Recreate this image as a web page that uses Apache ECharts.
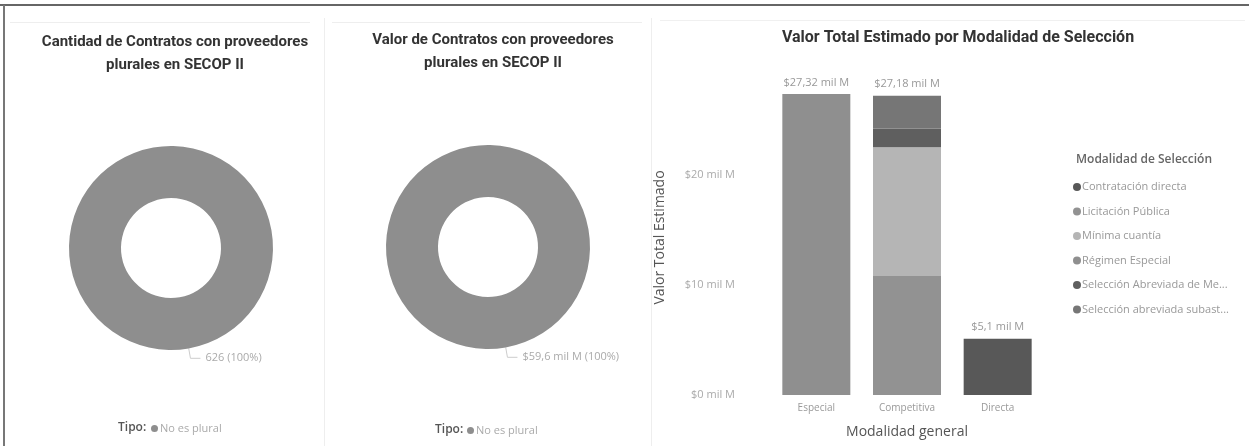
<!DOCTYPE html>
<html>
<head>
<meta charset="utf-8">
<script src="https://cdn.jsdelivr.net/npm/echarts@6/dist/echarts.min.js"></script>
<style>
html,body{margin:0;padding:0;background:#fff;}
#c{width:1249px;height:446px;}
</style>
</head>
<body>
<div id="c"></div>
<script>
// ---- data ----
const tipoNames = ['No es plural'];
const cantidadValues = [626];
const valorValues = [59.6];
const modalidadGeneral = ['Especial', 'Competitiva', 'Directa'];
const modalidadSeleccion = [
  'Contratación directa',
  'Licitación Pública',
  'Mínima cuantía',
  'Régimen Especial',
  'Selección Abreviada de Menor Cuantía',
  'Selección abreviada subasta inversa'
];
const contratacionDirecta = [0, 0, 5.1];
const licitacionPublica = [0, 10.8, 0];
const minimaCuantia = [0, 11.7, 0];
const regimenEspecial = [27.32, 0, 0];
const seleccionAbreviadaMenor = [0, 1.7, 0];
const seleccionAbreviadaSubasta = [0, 2.98, 0];
const yTicks = [0, 10, 20];

const segValues = [contratacionDirecta, licitacionPublica, minimaCuantia, regimenEspecial, seleccionAbreviadaMenor, seleccionAbreviadaSubasta];
const segColors = ['#585858', '#929292', '#b5b5b5', '#8f8f8f', '#5f5f5f', '#767676'];
// stacking order bottom->top
const stackOrder = [1, 2, 4, 5, 3, 0];

function fmt(v) {
  return '$' + String(Math.round(v * 100) / 100).replace('.', ',') + ' mil M';
}
const totals = modalidadGeneral.map((_, i) => segValues.reduce((s, arr) => s + arr[i], 0));

const chart = echarts.init(document.getElementById('c'));
const smallFont = 'Open Sans';
const titleFont = 'Roboto';

const series = [];
stackOrder.forEach(k => {
  series.push({
    type: 'bar', name: modalidadSeleccion[k], stack: 'tot',
    data: segValues[k], barCategoryGap: '25%',
    itemStyle: { color: segColors[k] }
  });
});
series.push({
  type: 'bar', name: 'Total', stack: 'tot', data: modalidadGeneral.map(() => 0),
  itemStyle: { color: 'transparent' }, silent: true,
  label: { show: true, position: 'top', distance: 6, color: '#999', fontFamily: smallFont, fontSize: 11,
    formatter: p => fmt(totals[p.dataIndex]) }
});

function donut(center, data, labelFmt) {
  return {
    type: 'pie', center: center, radius: [50, 102], startAngle: 100,
    data: tipoNames.map((n, i) => ({ name: n, value: data[i] })),
    itemStyle: { color: '#8e8e8e' },
    label: { show: true, position: 'outside', color: '#aaa', fontFamily: smallFont, fontSize: 11, formatter: labelFmt },
    labelLine: { show: true, length: 10, length2: 10, lineStyle: { color: '#ccc' } },
    emphasis: { disabled: true }
  };
}
series.push(donut([171, 248], cantidadValues, p => p.value + ' (' + Math.round(p.percent) + '%)'));
series.push(donut([488, 247], valorValues, p => fmt(p.value) + ' (' + Math.round(p.percent) + '%)'));

chart.setOption({
  animation: false,
  title: [
    { text: 'Cantidad de Contratos con proveedores\nplurales en SECOP II', left: 170, top: 26, textAlign: 'center',
      textStyle: { fontFamily: titleFont, fontSize: 15, fontWeight: 'bold', color: '#333', lineHeight: 23 } },
    { text: 'Valor de Contratos con proveedores\nplurales en SECOP II', left: 488, top: 24, textAlign: 'center',
      textStyle: { fontFamily: titleFont, fontSize: 15, fontWeight: 'bold', color: '#333', lineHeight: 23 } },
    { text: 'Valor Total Estimado por Modalidad de Selección', left: 953, top: 25, textAlign: 'center',
      textStyle: { fontFamily: titleFont, fontSize: 16, fontWeight: 'bold', color: '#333' } },
    { text: 'Tipo:', left: 113, top: 417, textStyle: { fontFamily: smallFont, fontSize: 12, fontWeight: 600, color: '#555' } },
    { text: 'Tipo:', left: 430, top: 419, textStyle: { fontFamily: smallFont, fontSize: 12, fontWeight: 600, color: '#555' } },
    { text: 'Modalidad de Selección', left: 1071, top: 149, textStyle: { fontFamily: smallFont, fontSize: 12, fontWeight: 600, color: '#666' } }
  ],
  legend: [
    { data: tipoNames, left: 146, top: 418, icon: 'circle', itemWidth: 7, itemHeight: 7, itemGap: 4,
      textStyle: { fontFamily: smallFont, fontSize: 11, color: '#aaa', padding: [0, 0, 0, -3] } },
    { data: tipoNames, left: 462, top: 420, icon: 'circle', itemWidth: 7, itemHeight: 7, itemGap: 4,
      textStyle: { fontFamily: smallFont, fontSize: 11, color: '#aaa', padding: [0, 0, 0, -3] } },
    { data: modalidadSeleccion, orient: 'vertical', left: 1068, top: 175, icon: 'circle', itemWidth: 8, itemHeight: 8,
      itemGap: 10.5, selectedMode: false,
      textStyle: { fontFamily: smallFont, fontSize: 11, color: '#999', lineHeight: 14, width: 150, overflow: 'truncate', ellipsis: '...', padding: [0, 0, 0, -4] } }
  ],
  grid: { left: 771, right: 1249 - 1043, top: 80, bottom: 51, containLabel: false },
  xAxis: {
    type: 'category', data: modalidadGeneral,
    axisLine: { show: false }, axisTick: { show: false },
    axisLabel: { color: '#999', fontFamily: smallFont, fontSize: 10, margin: 8 },
    name: 'Modalidad general', nameLocation: 'middle', nameGap: 30,
    nameTextStyle: { color: '#555', fontFamily: smallFont, fontSize: 14 }
  },
  yAxis: {
    type: 'value', min: 0, max: 28.6, interval: 10,
    axisLine: { show: false }, axisTick: { show: false },
    splitLine: { show: false },
    axisLabel: { color: '#aaa', fontFamily: smallFont, fontSize: 11, margin: 36, showMaxLabel: false,
      formatter: v => yTicks.includes(v) ? '$' + v + ' mil M' : '' },
    name: 'Valor Total Estimado', nameLocation: 'middle', nameGap: 104,
    nameTextStyle: { color: '#555', fontFamily: smallFont, fontSize: 14 }
  },
  graphic: [
    { type: 'rect', shape: { x: 0, y: 4, width: 1249, height: 2 }, style: { fill: '#666' }, silent: true },
    { type: 'rect', shape: { x: 3, y: 5, width: 2, height: 441 }, style: { fill: '#777' }, silent: true },
    { type: 'rect', shape: { x: 324, y: 18, width: 1, height: 428 }, style: { fill: '#eee' }, silent: true },
    { type: 'rect', shape: { x: 651, y: 18, width: 1, height: 428 }, style: { fill: '#eee' }, silent: true },
    { type: 'rect', shape: { x: 10, y: 22, width: 300, height: 1 }, style: { fill: '#eee' }, silent: true },
    { type: 'rect', shape: { x: 332, y: 22, width: 310, height: 1 }, style: { fill: '#eee' }, silent: true },
    { type: 'rect', shape: { x: 660, y: 20, width: 585, height: 1 }, style: { fill: '#f0f0f0' }, silent: true }
  ],
  series: series
});
</script>
</body>
</html>
